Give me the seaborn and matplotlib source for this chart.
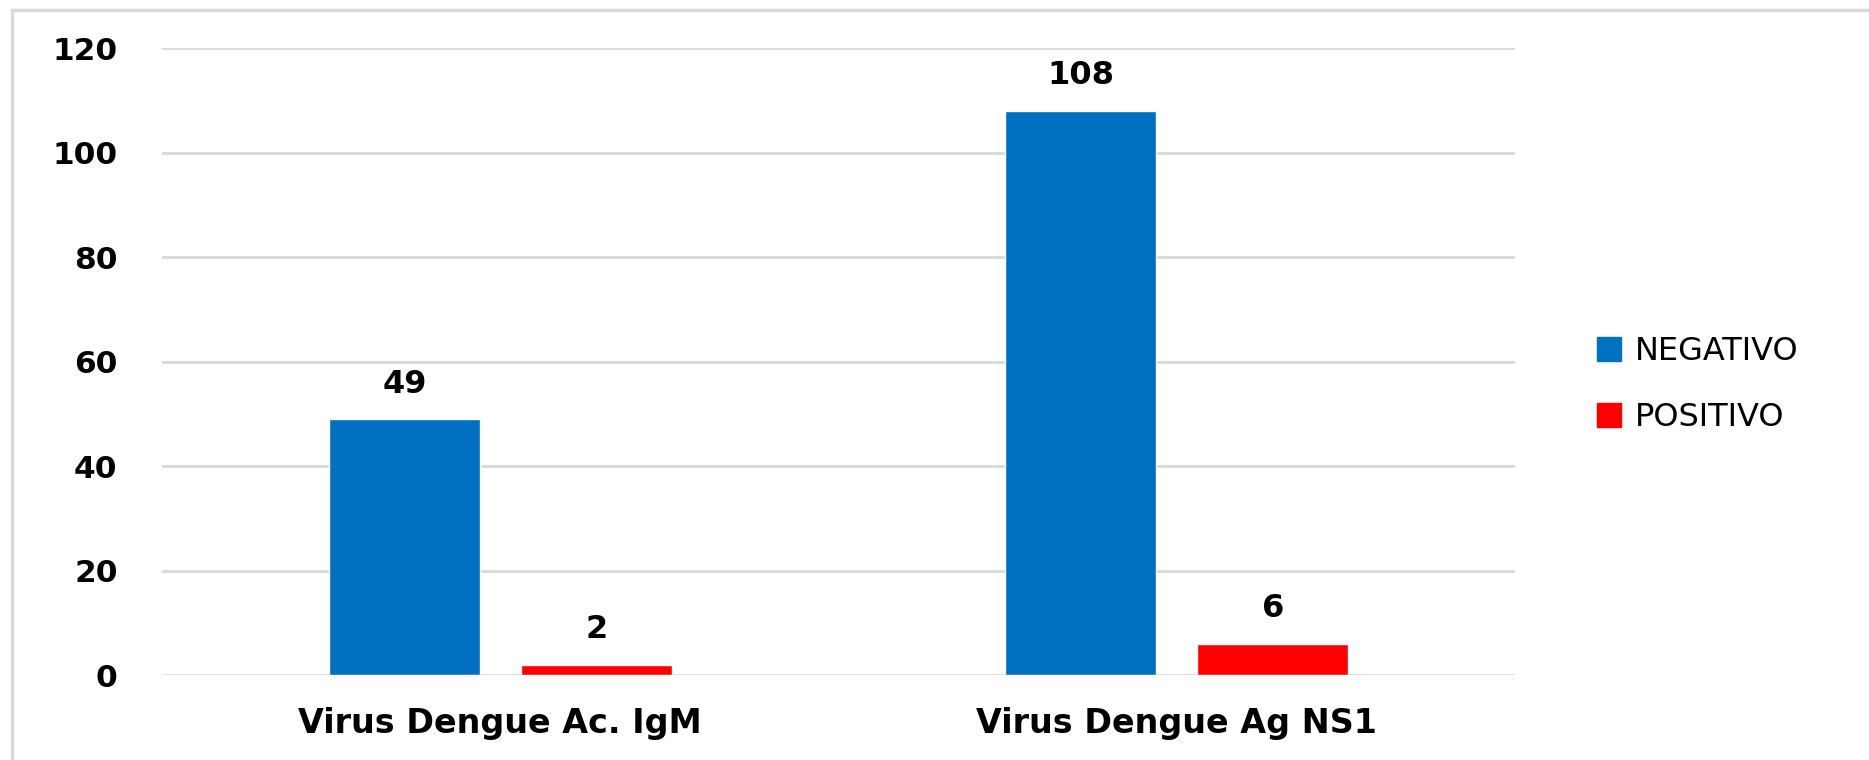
import matplotlib
matplotlib.use("Agg")
import matplotlib.pyplot as plt
import matplotlib.patches as mpatches
import pandas as pd
import seaborn as sns

categories = ["Virus Dengue Ac. IgM", "Virus Dengue Ag NS1"]
results = ["NEGATIVO", "POSITIVO"]
negativo = [49, 108]
positivo = [2, 6]
colors = {"NEGATIVO": "#0070C0", "POSITIVO": "#FF0000"}
yticks = [0, 20, 40, 60, 80, 100, 120]

df = pd.DataFrame({
    "prueba": categories * 2,
    "resultado": [results[0]] * len(categories) + [results[1]] * len(categories),
    "casos": negativo + positivo,
})

sns.set_theme(style="white")
plt.rcParams["font.family"] = ["DejaVu Sans"]
plt.rcParams["text.color"] = "black"
plt.rcParams["xtick.color"] = "black"
plt.rcParams["ytick.color"] = "black"

fig = plt.figure(figsize=(18.69, 7.6), dpi=100)
ax = fig.add_axes([0.0867, 0.1118, 0.8106 - 0.0867, 0.9368 - 0.1118])

sns.barplot(data=df, x="prueba", y="casos", hue="resultado", hue_order=results,
            palette=colors, width=0.567, gap=0.212, saturation=1, ax=ax)

ax.set_ylim(0, 120)
ax.set_yticks(yticks)
ax.yaxis.grid(True, color="#D9D9D9", linewidth=2)
ax.set_axisbelow(True)
for s in ax.spines.values():
    s.set_visible(False)
ax.set_xlabel("")
ax.set_ylabel("")
ax.tick_params(axis="y", length=0, pad=32, labelsize=22.5)
ax.tick_params(axis="x", length=0, pad=23, labelsize=24)
for lab in ax.get_yticklabels() + ax.get_xticklabels():
    lab.set_fontweight("bold")

for cont in ax.containers:
    ax.bar_label(cont, padding=14, fontsize=23, fontweight="bold")

handles = [mpatches.Patch(color=colors[r], label=r) for r in results]
ax.legend(handles=handles, loc="center left", bbox_to_anchor=(0.839, 0.494),
          bbox_transform=fig.transFigure, frameon=False, fontsize=23,
          handlelength=0.75, handleheight=0.75, handletextpad=0.45, labelspacing=1.1)

# outer frame (only top and left edges visible in the crop)
fig.patches.append(mpatches.Rectangle((0.0064, -0.05), 1.1, 0.9868 + 0.05,
                                      transform=fig.transFigure, fill=False,
                                      edgecolor="#D9D9D9", linewidth=2.5))

fig.savefig("out.png", dpi=100)
